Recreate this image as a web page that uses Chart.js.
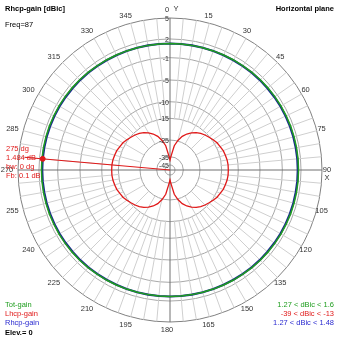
<!DOCTYPE html>
<html>
<head>
<meta charset="utf-8">
<script src="https://cdn.jsdelivr.net/npm/chart.js@4.4.1/dist/chart.umd.min.js"></script>
<style>
  html, body { margin: 0; padding: 0; background: #fff; }
  #wrap { width: 339px; height: 339px; }
</style>
</head>
<body>
<div id="wrap"><canvas id="pattern" width="339" height="339"></canvas></div>
<script>
// azimuth steps (deg), one spoke every 5 degrees
const azimuths = [
  0, 5, 10, 15, 20, 25, 30, 35, 40, 45, 50, 55, 60, 65, 70, 75, 80, 85,
  90, 95, 100, 105, 110, 115, 120, 125, 130, 135, 140, 145, 150, 155, 160, 165, 170, 175,
  180, 185, 190, 195, 200, 205, 210, 215, 220, 225, 230, 235, 240, 245, 250, 255, 260, 265,
  270, 275, 280, 285, 290, 295, 300, 305, 310, 315, 320, 325, 330, 335, 340, 345, 350, 355
];
// gain rings (dBic)
const ringValues = [5, 2, -1, -5, -10, -15, -25, -35, -45];

const totGain = [
  1.27, 1.27, 1.28, 1.29, 1.31, 1.34, 1.36, 1.39, 1.43, 1.46, 1.48, 1.51, 1.53, 1.55, 1.57, 1.58, 1.59, 1.60,
  1.60, 1.60, 1.59, 1.58, 1.57, 1.55, 1.53, 1.51, 1.48, 1.46, 1.43, 1.39, 1.36, 1.34, 1.31, 1.29, 1.28, 1.27,
  1.27, 1.27, 1.28, 1.29, 1.31, 1.34, 1.36, 1.39, 1.43, 1.46, 1.48, 1.51, 1.53, 1.55, 1.57, 1.58, 1.59, 1.60,
  1.60, 1.60, 1.59, 1.58, 1.57, 1.55, 1.53, 1.51, 1.48, 1.46, 1.43, 1.39, 1.36, 1.34, 1.31, 1.29, 1.28, 1.27
];
const lhcpGain = [
  -39, -34.2, -28.2, -24.7, -22.3, -20.5, -19.0, -17.8, -16.8, -16.0, -15.3, -14.7, -14.2, -13.9, -13.5, -13.3, -13.1, -13.0,
  -13.0, -13.0, -13.1, -13.3, -13.5, -13.9, -14.2, -14.7, -15.3, -16.0, -16.8, -17.8, -19.0, -20.5, -22.3, -24.7, -28.2, -34.2,
  -39, -34.2, -28.2, -24.7, -22.3, -20.5, -19.0, -17.8, -16.8, -16.0, -15.3, -14.7, -14.2, -13.9, -13.5, -13.3, -13.1, -13.0,
  -13.0, -13.0, -13.1, -13.3, -13.5, -13.9, -14.2, -14.7, -15.3, -16.0, -16.8, -17.8, -19.0, -20.5, -22.3, -24.7, -28.2, -34.2
];
const rhcpGain = [
  1.27, 1.27, 1.28, 1.28, 1.29, 1.31, 1.32, 1.34, 1.36, 1.38, 1.39, 1.41, 1.43, 1.44, 1.46, 1.47, 1.47, 1.48,
  1.48, 1.48, 1.47, 1.47, 1.46, 1.44, 1.43, 1.41, 1.39, 1.38, 1.36, 1.34, 1.32, 1.31, 1.29, 1.28, 1.28, 1.27,
  1.27, 1.27, 1.28, 1.28, 1.29, 1.31, 1.32, 1.34, 1.36, 1.38, 1.39, 1.41, 1.43, 1.44, 1.46, 1.47, 1.47, 1.48,
  1.48, 1.484, 1.47, 1.47, 1.46, 1.44, 1.43, 1.41, 1.39, 1.38, 1.36, 1.34, 1.32, 1.31, 1.29, 1.28, 1.28, 1.27
];
const markerAz = 275;
const markerGain = 1.484;

// log-like radial scale: dB -> fraction of the outer ring
const ringFrac = [1, 0.862, 0.739, 0.592, 0.449, 0.340, 0.197, 0.0875, 0.033];
function toFrac(db) {
  if (db >= ringValues[0]) return 1;
  for (let i = 1; i < ringValues.length; i++) {
    if (db >= ringValues[i]) {
      const t = (db - ringValues[i]) / (ringValues[i - 1] - ringValues[i]);
      return ringFrac[i] + t * (ringFrac[i - 1] - ringFrac[i]);
    }
  }
  return Math.max(0, ringFrac[ringFrac.length - 1] * (db + 55) / 10);
}

const FONT = '"Liberation Sans", Arial, sans-serif';
const GREEN = '#1f9e1f', RED = '#e01818', BLUE = '#1a2a8c';

// spokes: axes run to the centre, 15 deg spokes stop at the -25 ring, the rest at -15
function spokeStart(a) {
  if (a % 90 === 0) return 0;
  if (a % 15 === 0) return 30;
  return 51;
}

const overlay = {
  id: 'overlay',
  afterDatasetsDraw(chart) {
    const s = chart.scales.r;
    const ctx = chart.ctx;
    ctx.save();

    // marker line from the centre out past the cursor point
    const mi = azimuths.indexOf(markerAz);
    const end = s.getPointPosition(mi, s.drawingArea * 0.96);
    ctx.strokeStyle = RED;
    ctx.lineWidth = 1;
    ctx.beginPath();
    ctx.moveTo(s.xCenter, s.yCenter);
    ctx.lineTo(end.x, end.y);
    ctx.stroke();

    // ring labels, right aligned against the Y axis
    ctx.font = '7px ' + FONT;
    ctx.fillStyle = '#333';
    ctx.textAlign = 'right';
    ctx.textBaseline = 'middle';
    ringValues.forEach(v => {
      const d = s.getDistanceFromCenterForValue(toFrac(v));
      ctx.fillText(String(v), s.xCenter - 1, s.yCenter - d + 1);
    });

    // azimuth labels every 15 degrees
    ctx.textAlign = 'center';
    ctx.font = '7.5px ' + FONT;
    azimuths.forEach((a, i) => {
      if (a % 15 !== 0) return;
      const p = s.getPointPosition(i, s.drawingArea + 8);
      ctx.fillText(String(a), p.x - 3, p.y);
    });
    ctx.fillText('Y', s.xCenter + 6, s.yCenter - s.drawingArea - 9);
    ctx.fillText('X', s.xCenter + s.drawingArea + 5, s.yCenter + 8);

    // header
    ctx.textAlign = 'left';
    ctx.fillStyle = '#000';
    ctx.font = 'bold 7.5px ' + FONT;
    ctx.fillText('Rhcp-gain [dBic]', 5, 9);
    ctx.textAlign = 'right';
    ctx.fillText('Horizontal plane', 334, 9);
    ctx.textAlign = 'left';
    ctx.font = '7.5px ' + FONT;
    ctx.fillText('Freq=87', 5, 25);

    // cursor readout
    ctx.fillStyle = RED;
    ctx.fillText(markerAz + ' dg', 6, 149);
    ctx.fillText(markerGain + ' dB', 6, 158);
    ctx.fillText('bw: 0 dg', 6, 167);
    ctx.fillText('Fb: 0.1 dB', 6, 175.5);

    // legend and ranges
    const rows = [
      ['Tot-gain', totGain, GREEN],
      ['Lhcp-gain', lhcpGain, RED],
      ['Rhcp-gain', rhcpGain, '#2a2ad0']
    ];
    rows.forEach(([name, vals, col], k) => {
      const y = 305 + k * 9;
      ctx.fillStyle = col;
      ctx.textAlign = 'left';
      ctx.fillText(name, 5, y);
      ctx.textAlign = 'right';
      const lo = Math.min(...vals), hi = Math.max(...vals);
      ctx.fillText(+lo.toFixed(2) + ' < dBic < ' + +hi.toFixed(2), 334, y);
    });
    ctx.textAlign = 'left';
    ctx.fillStyle = '#000';
    ctx.font = 'bold 7.5px ' + FONT;
    ctx.fillText('Elev.= 0', 5, 333);
    ctx.restore();
  }
};

new Chart(document.getElementById('pattern'), {
  type: 'radar',
  data: {
    labels: azimuths.map(String),
    datasets: [
      {
        label: 'cursor',
        data: azimuths.map(a => (a === markerAz ? toFrac(markerGain) : null)),
        showLine: false,
        pointRadius: 2.5,
        pointBackgroundColor: RED,
        pointBorderColor: RED
      },
      { label: 'Tot-gain', data: totGain.map(toFrac), borderColor: GREEN, borderWidth: 1.5 },
      { label: 'Lhcp-gain', data: lhcpGain.map(toFrac), borderColor: RED, borderWidth: 1.3 },
      { label: 'Rhcp-gain', data: rhcpGain.map(toFrac), borderColor: BLUE, borderWidth: 2.2 }
    ]
  },
  options: {
    responsive: false,
    animation: false,
    layout: { padding: { left: 18, right: 17, top: 18, bottom: 17 } },
    elements: {
      line: { tension: 0, fill: false },
      point: { radius: 0, hoverRadius: 0 }
    },
    plugins: { legend: { display: false }, tooltip: { enabled: false } },
    scales: {
      r: {
        min: 0,
        max: 1,
        afterBuildTicks: scale => {
          scale.ticks = [{ value: 0 }].concat(ringValues.slice().reverse().map(v => ({ value: toFrac(v) })));
        },
        ticks: { display: false },
        pointLabels: { display: false },
        grid: {
          circular: true,
          color: c => (c.index === ringValues.length ? '#808080' : '#a8a8a8'),
          lineWidth: 1
        },
        angleLines: {
          color: c => (azimuths[c.index] % 90 === 0 ? '#707070' : '#cfcfcf'),
          lineWidth: 1,
          borderDash: c => {
            const g = spokeStart(azimuths[c.index]);
            return g ? [0, g, 400] : [];
          }
        }
      }
    }
  },
  plugins: [overlay]
});
</script>
</body>
</html>
